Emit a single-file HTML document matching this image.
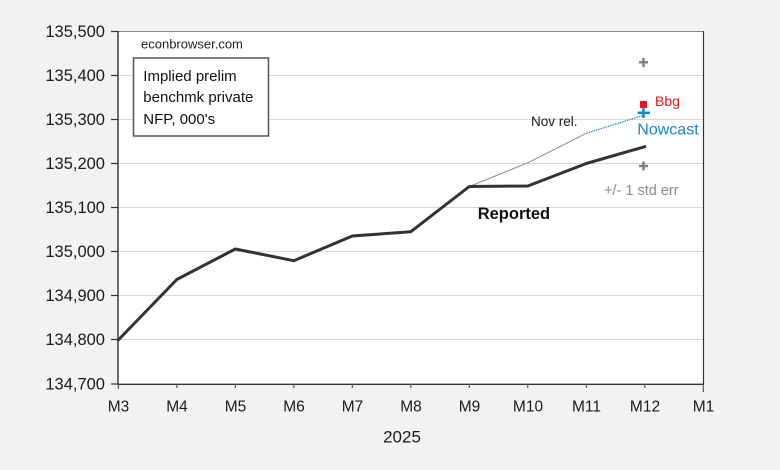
<!DOCTYPE html>
<html>
<head>
<meta charset="utf-8">
<style>
html,body{margin:0;padding:0;background:#f2f2f2;}
svg{display:block;}
text{font-family:"Liberation Sans",Arial,sans-serif;}
</style>
</head>
<body>
<svg width="780" height="470" viewBox="0 0 780 470" xmlns="http://www.w3.org/2000/svg">
<rect x="0" y="0" width="780" height="470" fill="#f2f2f2"/>
<rect x="118" y="31.5" width="585.5" height="352.5" fill="#ffffff"/>
<!-- gridlines -->
<g stroke="#d8d8d8" stroke-width="1">
<line x1="118" y1="75.5" x2="703" y2="75.5"/>
<line x1="118" y1="119.5" x2="703" y2="119.5"/>
<line x1="118" y1="163.5" x2="703" y2="163.5"/>
<line x1="118" y1="207.5" x2="703" y2="207.5"/>
<line x1="118" y1="251.5" x2="703" y2="251.5"/>
<line x1="118" y1="295.5" x2="703" y2="295.5"/>
<line x1="118" y1="339.5" x2="703" y2="339.5"/>
</g>
<!-- frame -->
<line x1="118" y1="31.5" x2="703.5" y2="31.5" stroke="#8a8a8a" stroke-width="1"/>
<line x1="703.5" y1="31" x2="703.5" y2="384" stroke="#333" stroke-width="1.2"/>
<line x1="118" y1="31" x2="118" y2="384.5" stroke="#222" stroke-width="1.3"/>
<line x1="117.5" y1="384.3" x2="704" y2="384.3" stroke="#333" stroke-width="1.3"/>
<!-- y ticks -->
<g stroke="#333" stroke-width="1.2">
<line x1="111" y1="31.5" x2="118" y2="31.5"/>
<line x1="111" y1="75.5" x2="118" y2="75.5"/>
<line x1="111" y1="119.5" x2="118" y2="119.5"/>
<line x1="111" y1="163.5" x2="118" y2="163.5"/>
<line x1="111" y1="207.5" x2="118" y2="207.5"/>
<line x1="111" y1="251.5" x2="118" y2="251.5"/>
<line x1="111" y1="295.5" x2="118" y2="295.5"/>
<line x1="111" y1="339.5" x2="118" y2="339.5"/>
<line x1="111" y1="384" x2="118" y2="384"/>
</g>
<!-- x ticks -->
<g stroke="#555" stroke-width="1.2">
<line x1="118.3" y1="384" x2="118.3" y2="389"/>
<line x1="176.8" y1="384" x2="176.8" y2="388"/>
<line x1="235.3" y1="384" x2="235.3" y2="388"/>
<line x1="293.8" y1="384" x2="293.8" y2="388"/>
<line x1="352.3" y1="384" x2="352.3" y2="388"/>
<line x1="410.8" y1="384" x2="410.8" y2="388"/>
<line x1="469.3" y1="384" x2="469.3" y2="388"/>
<line x1="527.8" y1="384" x2="527.8" y2="388"/>
<line x1="586.3" y1="384" x2="586.3" y2="388"/>
<line x1="644.8" y1="384" x2="644.8" y2="388"/>
<line x1="703.3" y1="384" x2="703.3" y2="392"/>
</g>
<!-- y labels -->
<g font-size="16.5" fill="#1a1a1a" text-anchor="end">
<text x="105" y="37">135,500</text>
<text x="105" y="81">135,400</text>
<text x="105" y="125">135,300</text>
<text x="105" y="169">135,200</text>
<text x="105" y="213">135,100</text>
<text x="105" y="257">135,000</text>
<text x="105" y="301">134,900</text>
<text x="105" y="345">134,800</text>
<text x="105" y="389.5">134,700</text>
</g>
<!-- x labels -->
<g font-size="15.5" fill="#1a1a1a" text-anchor="middle">
<text x="118.5" y="411.7">M3</text>
<text x="177" y="411.7">M4</text>
<text x="235.5" y="411.7">M5</text>
<text x="294" y="411.7">M6</text>
<text x="352.5" y="411.7">M7</text>
<text x="411" y="411.7">M8</text>
<text x="469.5" y="411.7">M9</text>
<text x="528" y="411.7">M10</text>
<text x="586.5" y="411.7">M11</text>
<text x="645" y="411.7">M12</text>
<text x="703.5" y="411.7">M1</text>
</g>
<text x="402" y="442.7" font-size="17" fill="#1a1a1a" text-anchor="middle">2025</text>
<!-- Nov rel thin line -->
<polyline points="469.3,186.5 527.8,162.8 586.3,133.3" fill="none" stroke="#8a8a8a" stroke-width="1"/>
<!-- blue dotted -->
<line x1="586.3" y1="133.3" x2="643" y2="115.5" stroke="#1a86c8" stroke-width="1.2" stroke-dasharray="1.5,1"/>
<!-- reported thick line -->
<polyline points="118.3,340 176.8,279.5 235.3,249 293.8,260.7 352.3,236 410.8,231.7 469.3,186.5 527.8,186 586.3,163.5 644.8,146.7" fill="none" stroke="#333" stroke-width="3" stroke-linejoin="round" stroke-linecap="round"/>
<!-- markers -->
<g stroke="#808080" stroke-width="2.5">
<line x1="639" y1="62.3" x2="648" y2="62.3"/>
<line x1="643.5" y1="58" x2="643.5" y2="67"/>
<line x1="639" y1="166" x2="648" y2="166"/>
<line x1="643.5" y1="161.5" x2="643.5" y2="170.5"/>
</g>
<rect x="640" y="101" width="7" height="7" fill="#e8141c"/>
<g stroke="#1a86c8" stroke-width="2.5">
<line x1="637.5" y1="112.8" x2="650" y2="112.8"/>
<line x1="643.5" y1="107.5" x2="643.5" y2="118"/>
</g>
<!-- annotations -->
<text x="531" y="126" font-size="13.5" fill="#1a1a1a">Nov rel.</text>
<text x="655" y="106" font-size="14" fill="#e8141c">Bbg</text>
<text x="637.3" y="134.3" font-size="16" fill="#1a86c8">Nowcast</text>
<text x="604" y="195" font-size="14.5" fill="#8a8a8a">+/- 1 std err</text>
<text x="477.7" y="219" font-size="16.5" font-weight="bold" fill="#111">Reported</text>
<!-- watermark and box -->
<text x="141" y="48.3" font-size="13" fill="#222">econbrowser.com</text>
<rect x="133.5" y="58" width="135" height="78" fill="#ffffff" stroke="#555" stroke-width="1.5"/>
<g font-size="15" fill="#111">
<text x="143.3" y="81">Implied prelim</text>
<text x="143.3" y="102">benchmk private</text>
<text x="143.3" y="124">NFP, 000's</text>
</g>
</svg>
</body>
</html>
